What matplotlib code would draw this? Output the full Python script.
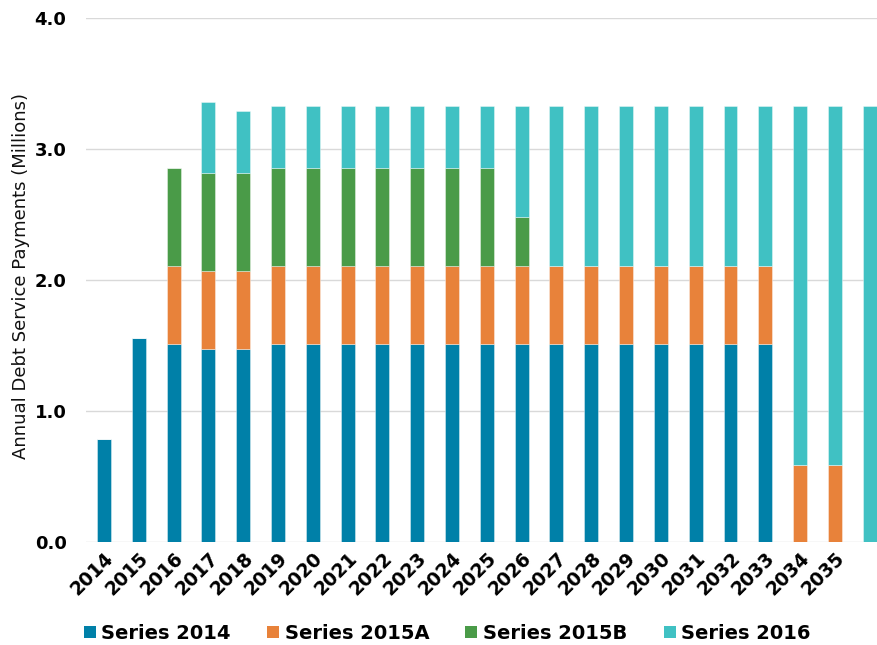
import matplotlib
matplotlib.use("Agg")
import matplotlib.pyplot as plt
from matplotlib.patches import Patch
import numpy as np

years = [str(y) for y in range(2014, 2037)]
tick_labels = years[:-1] + [""]

series_names = ["Series 2014", "Series 2015A", "Series 2015B", "Series 2016"]
series_2014 = [0.79, 1.555, 1.514, 1.476, 1.476, 1.514, 1.514, 1.514, 1.514, 1.514,
               1.514, 1.514, 1.514, 1.514, 1.514, 1.514, 1.514, 1.514, 1.514, 1.514,
               0.0, 0.0, 0.0]
series_2015a = [0.0, 0.0, 0.593, 0.593, 0.593, 0.593, 0.593, 0.593, 0.593, 0.593,
                0.593, 0.593, 0.593, 0.593, 0.593, 0.593, 0.593, 0.593, 0.593, 0.593,
                0.588, 0.588, 0.0]
series_2015b = [0.0, 0.0, 0.746, 0.748, 0.748, 0.746, 0.746, 0.746, 0.746, 0.746,
                0.746, 0.746, 0.371, 0.0, 0.0, 0.0, 0.0, 0.0, 0.0, 0.0,
                0.0, 0.0, 0.0]
series_2016 = [0.0, 0.0, 0.0, 0.544, 0.471, 0.473, 0.473, 0.473, 0.473, 0.473,
               0.473, 0.473, 0.848, 1.219, 1.219, 1.219, 1.219, 1.219, 1.219, 1.219,
               2.738, 2.738, 3.326]
colors = ["#0080A8", "#E8823A", "#4A9B48", "#40C1C3"]

plt.rcParams["font.family"] = ["DejaVu Sans"]

fig = plt.figure(figsize=(8.77, 6.45), dpi=100)
ax = fig.add_axes([86 / 877, 103 / 645, 791 / 877, (542 - 18) / 645])

x = np.arange(len(years))
bottom = np.zeros(len(years))
for name, vals, c in zip(series_names,
                         [series_2014, series_2015a, series_2015b, series_2016],
                         colors):
    v = np.array(vals)
    ax.bar(x, v, width=0.4, bottom=bottom, color=c,
           edgecolor=(1, 1, 1, 0.45), linewidth=0.6, zorder=3)
    bottom += v

ax.set_xlim(-0.517, 22.21)
ax.set_ylim(0, 4.0)
ax.set_yticks([0, 1, 2, 3, 4])
ax.set_yticklabels(["0.0", "1.0", "2.0", "3.0", "4.0"], fontsize=13, fontweight="bold")
ax.yaxis.grid(True, color="#D9D9D9", linewidth=1.0, zorder=0)
ax.set_axisbelow(True)
for s in ax.spines.values():
    s.set_visible(False)
ax.tick_params(axis="y", length=0, pad=14)
ax.tick_params(axis="x", length=0, pad=5)
ax.set_xticks(x)
ax.set_xticklabels(tick_labels, rotation=45, ha="right", rotation_mode="anchor",
                   fontsize=13.5, fontweight="bold")

fig.text(21 / 877, (645 - 276) / 645, "Annual Debt Service Payments (Millions)",
         rotation=90, ha="center", va="center", fontsize=13, color="#111111")

handles = [Patch(facecolor=c, edgecolor="none") for c in colors]
fig.legend(handles, series_names, loc="center", bbox_to_anchor=(0.51, 0.018),
           ncol=4, frameon=False, prop={"size": 14, "weight": "bold"},
           handlelength=0.62, handleheight=0.62, handletextpad=0.3,
           columnspacing=1.85, borderaxespad=0, borderpad=0)

fig.savefig("out.png", dpi=100)
